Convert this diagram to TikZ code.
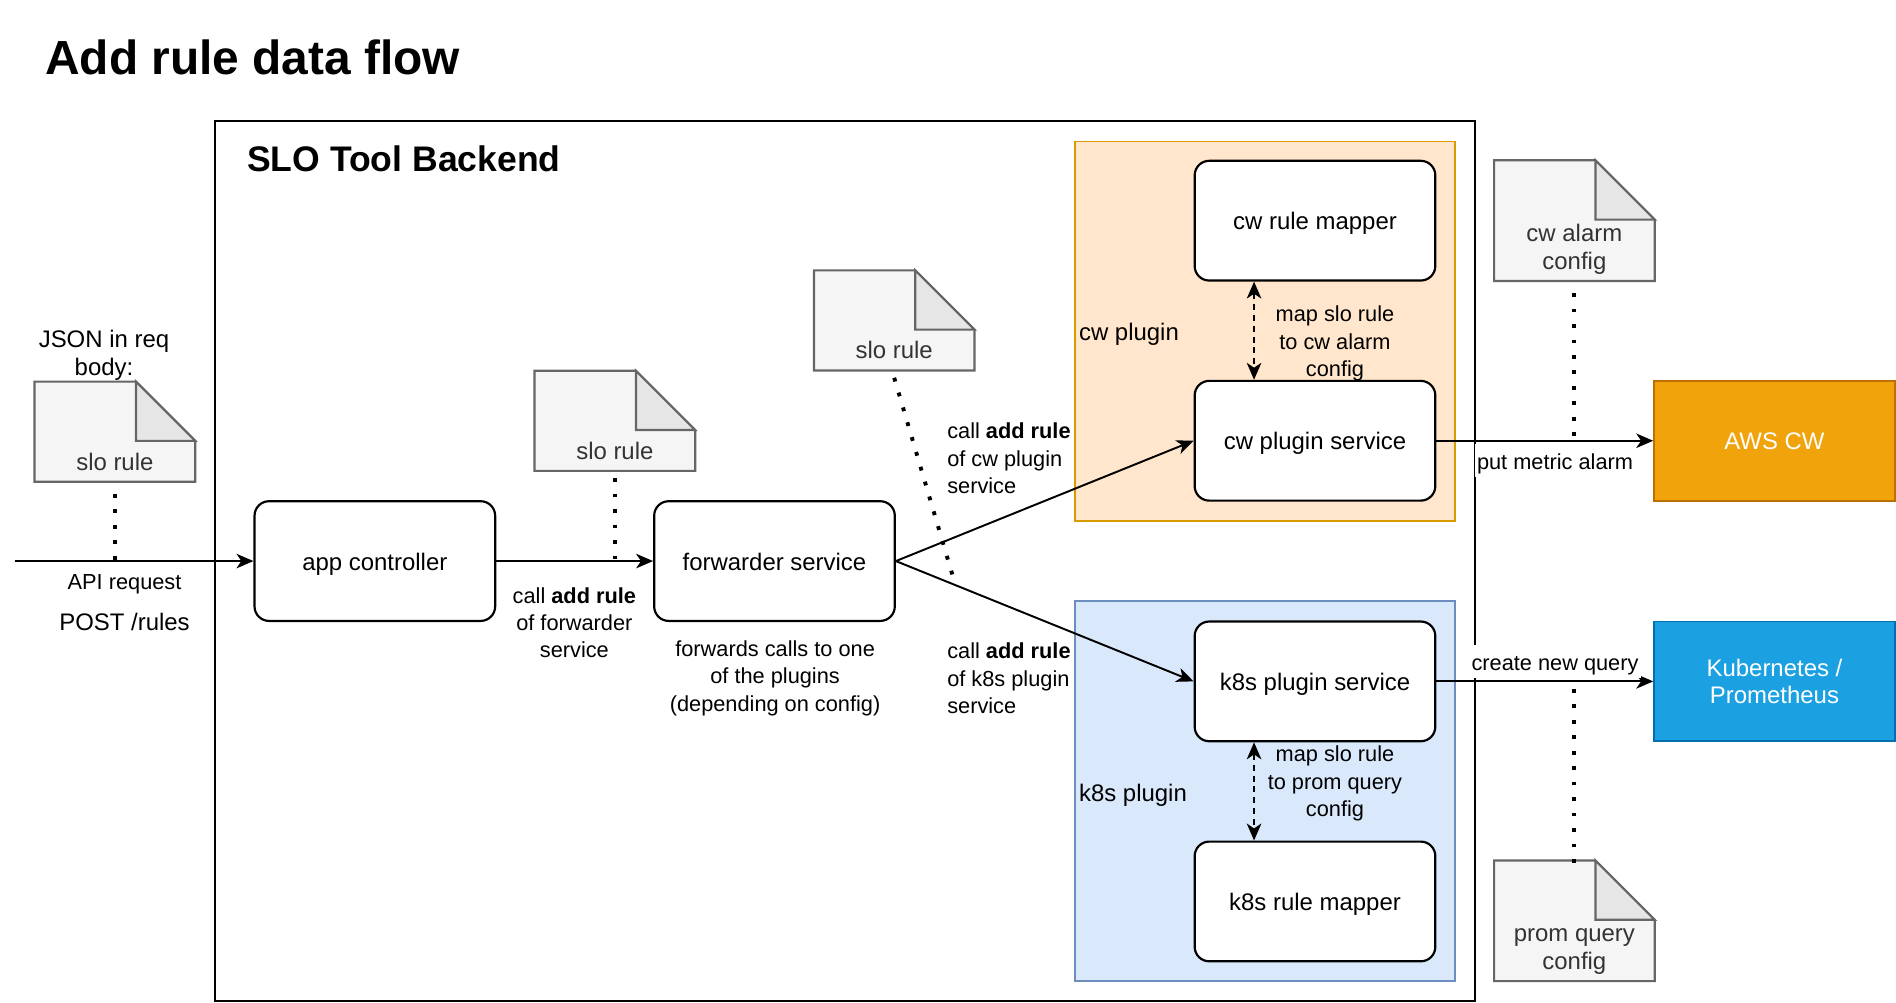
\documentclass[tikz,border=0pt]{standalone}
\usepackage{fontspec}
\setmainfont{Liberation Sans}
\usetikzlibrary{arrows.meta,backgrounds,calc}

\definecolor{cwfill}{HTML}{FFE6CC}
\definecolor{cwline}{HTML}{D79B00}
\definecolor{k8sfill}{HTML}{DAE8FC}
\definecolor{k8sline}{HTML}{6C8EBF}
\definecolor{awsfill}{HTML}{F0A30A}
\definecolor{awsline}{HTML}{BD7000}
\definecolor{kubefill}{HTML}{1BA1E2}
\definecolor{kubeline}{HTML}{006EAF}
\definecolor{docfill}{HTML}{F5F5F5}
\definecolor{docfold}{HTML}{E6E6E6}
\definecolor{docline}{HTML}{666666}
\definecolor{doctext}{HTML}{333333}

\newcommand{\bigtxt}{\fontsize{9.9}{11.5}\selectfont}
\newcommand{\smalltxt}{\fontsize{9}{11.25}\selectfont}

\tikzset{
  mid/.style={text height=0.95em, text depth=0.2em},
  svc/.style={draw, line width=0.9pt, rounded corners=6pt, minimum width=99.5pt, minimum height=49.5pt, font=\bigtxt, fill=white, mid},
  ext/.style={draw, line width=0.8pt, minimum width=99.5pt, minimum height=49.5pt, font=\bigtxt, text=white, align=center},
  plugin/.style={draw, line width=0.8pt, minimum width=157pt, minimum height=157pt},
  doc/.style={minimum width=66pt, inner sep=0pt},
  doclbl/.style={anchor=south, inner sep=0pt, font=\bigtxt, text=doctext, align=center},
  flow/.style={line width=0.8pt, ->},
  maps/.style={line width=0.8pt, <->, dash pattern=on 2.5pt off 2pt},
  dots/.style={line width=1.6pt, dash pattern=on 1.6pt off 4.8pt},
  lbl/.style={font=\smalltxt, align=center, inner sep=1pt},
}

\begin{document}
\begin{tikzpicture}[x=0.5pt, y=-0.5pt, >={Stealth[length=7pt,width=6pt,inset=2pt]}]
\useasboundingbox (0,0) rectangle (1568,829);
\pgfmathsetmacro{\fold}{24.5}

\node[anchor=base west, inner sep=0pt, font=\bfseries\fontsize{19.8}{24}\selectfont] (title) at (37,62) {Add rule data flow};

% backend and plugin containers
\node[draw, line width=0.9pt, minimum width=521pt, minimum height=364pt] (backend) at (699,464) {};
\node[anchor=base west, inner sep=0pt, font=\bfseries\fontsize{14.7}{18}\selectfont] (backendname) at (204,142) {SLO Tool Backend};
\node[plugin, fill=cwfill, draw=cwline] (cwplugin) at (1046,274) {};
\node[plugin, fill=k8sfill, draw=k8sline] (k8splugin) at (1046,654) {};
\node[anchor=west, inner sep=1pt, font=\bigtxt, mid] (cwname) at (890,274) {cw plugin};
\node[anchor=west, inner sep=1pt, font=\bigtxt, mid] (k8sname) at (890,655) {k8s plugin};

% services
\node[svc] (app) at (310,464) {app controller};
\node[svc] (fwd) at (640.5,464) {forwarder service};
\node[svc] (cwmap) at (1087.5,182.5) {cw rule mapper};
\node[svc] (cwsvc) at (1087.5,364.5) {cw plugin service};
\node[svc] (k8ssvc) at (1087.5,563.5) {k8s plugin service};
\node[svc] (k8smap) at (1087.5,745.5) {k8s rule mapper};
\node[ext, fill=awsfill, draw=awsline, mid] (aws) at (1467.5,364.5) {AWS CW};
\node[ext, fill=kubefill, draw=kubeline] (kube) at (1467.5,563.5) {Kubernetes /\\Prometheus};

% documents
\node[doc, minimum height=41pt, label={[doclbl, yshift=4.5pt]south:slo rule}] (reqdoc) at (95,357) {};
\node[doc, minimum height=41pt, label={[doclbl, yshift=4.5pt]south:slo rule}] (fwddoc) at (508.5,348) {};
\node[doc, minimum height=41pt, label={[doclbl, yshift=4.5pt]south:slo rule}] (plugdoc) at (739.5,265) {};
\node[doc, minimum height=49.5pt, label={[doclbl, yshift=2.5pt]south:cw alarm\\config}] (alarmdoc) at (1302,182.5) {};
\node[doc, minimum height=49.5pt, label={[doclbl, yshift=2.5pt]south:prom query\\config}] (querydoc) at (1302,761.5) {};
\begin{scope}[on background layer]
\foreach \n in {reqdoc,fwddoc,plugdoc,alarmdoc,querydoc}{
  \draw[docline, fill=docfill, line width=0.9pt] (\n.north west) -- ([xshift=-\fold pt]\n.north east) -- ([yshift=-\fold pt]\n.north east) -- (\n.south east) -- (\n.south west) -- cycle;
  \draw[docline, fill=docfold, line width=0.9pt] ([xshift=-\fold pt]\n.north east) -- ([xshift=-\fold pt, yshift=-\fold pt]\n.north east) -- ([yshift=-\fold pt]\n.north east) -- cycle;
}
\end{scope}

% connectors
\coordinate (client) at (12,464);
\coordinate (tap) at ($(fwd.east)!0.2!(k8ssvc.west)$);
\draw[flow] (client) -- (app);
\draw[flow] (app) -- (fwd);
\draw[flow] (fwd.east) -- (cwsvc.west);
\draw[flow] (fwd.east) -- (k8ssvc.west);
\draw[maps] ([xshift=25pt]cwmap.south west) -- ([xshift=25pt]cwsvc.north west);
\draw[maps] ([xshift=25pt]k8ssvc.south west) -- ([xshift=25pt]k8smap.north west);
\draw[flow] (cwsvc) -- (aws);
\draw[flow] (k8ssvc) -- (kube);
\draw[dots] ([yshift=-5pt]reqdoc.south) -- (reqdoc.south |- app.west);
\draw[dots] ([yshift=-3pt]fwddoc.south) -- (fwddoc.south |- fwd.west);
\draw[dots] ([yshift=-3pt]plugdoc.south) -- (tap);
\draw[dots] ([yshift=-5pt]alarmdoc.south) -- (alarmdoc.south |- cwsvc.east);
\draw[dots] ([yshift=-1pt]querydoc.north) -- ([yshift=-1pt]querydoc.north |- k8ssvc.east);

% labels
\node[font=\bigtxt, align=center] (jsonlbl) at (86,294) {JSON in req\\body:};
\node[lbl, mid] (apilbl) at (103,480) {API request};
\node[font=\bigtxt, mid] (postlbl) at (103,514) {POST /rules};
\node[lbl] (fwdcall) at (475,515) {call \textbf{add rule}\\of forwarder\\service};
\node[lbl] (fwdnote) at (641,561) {forwards calls to one\\of the plugins\\(depending on config)};
\node[lbl, align=left, anchor=west] (cwcall) at (781,379) {call \textbf{add rule}\\of cw plugin\\service};
\node[lbl, align=left, anchor=west] (k8scall) at (781,561) {call \textbf{add rule}\\of k8s plugin\\service};
\node[lbl] (cwmaplbl) at (1104,284) {map slo rule\\to cw alarm\\config};
\node[lbl] (k8smaplbl) at (1104,648) {map slo rule\\to prom query\\config};
\node[lbl, fill=white, mid] (putlbl) at (1286,381) {put metric alarm};
\node[lbl, fill=white, mid] (querylbl) at (1286,547) {create new query};
\end{tikzpicture}
\end{document}
